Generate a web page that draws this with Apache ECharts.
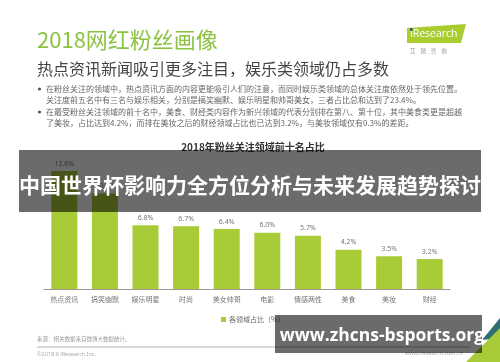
<!DOCTYPE html>
<html><head><meta charset="utf-8">
<script src="https://cdn.jsdelivr.net/npm/echarts@6/dist/echarts.min.js"></script>
<style>html,body{margin:0;padding:0;background:#fff}#c{width:500px;height:362px}</style>
</head><body><div id="c"></div>
<script>
const categories = ['热点资讯','搞笑幽默','娱乐明星','时尚','美女帅哥','电影','情感两性','美食','美妆','财经'];
const values = [12.6,10.2,6.8,6.7,6.4,6.0,5.7,4.2,3.5,3.2];
const seriesName = '各领域占比（%）';
const pageTitle = '2018网红粉丝画像';
const pageSubtitle = '热点资讯新闻吸引更多注目，娱乐类领域仍占多数';
const bulletLines = [
  '在粉丝关注的领域中，热点资讯方面的内容更能吸引人们的注意，而同时娱乐类领域的总体关注度依然处于领先位置。',
  '关注度前五名中有三名与娱乐相关，分别是搞笑幽默、娱乐明星和帅哥美女，三者占比总和达到了23.4%。',
  '在最受粉丝关注领域的前十名中，美食、财经类内容作为新兴领域的代表分别排在第八、第十位，其中美食类更是超越',
  '了美妆，占比达到4.2%，而排在美妆之后的财经领域占比也已达到3.2%，与美妆领域仅有0.3%的差距。'
];
const chartTitle = '2018年粉丝关注领域前十名占比';
const bannerText = '中国世界杯影响力全方位分析与未来发展趋势探讨';
const watermarkText = 'www.zhcns-bsports.org';
const sourceText = '来源：相关数据来自微博大数据统计。';
const copyrightText = '©2018.6 iResearch Inc.';
const siteText = 'www.iresearch.com.cn';

const CJK = '"Noto Sans CJK SC", "Noto Sans", sans-serif';
const chart = echarts.init(document.getElementById('c'), null, {renderer:'canvas'});

const lineY = [89, 100, 112, 123];
const bulletEls = [];
bulletLines.forEach((t, i) => {
  bulletEls.push({type:'text', z:10, style:{text:t, x:46, y:lineY[i], fill:'#666', font:'8px ' + CJK, verticalAlign:'middle'}});
});
[0, 2].forEach(i => {
  bulletEls.push({type:'circle', z:10, shape:{cx:39.5, cy:lineY[i], r:1.6}, style:{fill:'#555'}});
});

chart.setOption({
  backgroundColor:'#fff',
  animation:false,
  grid:{left:44, right:50, top:158, bottom:73},
  xAxis:{type:'category', data:categories,
    axisLine:{lineStyle:{color:'#999', width:1}}, axisTick:{show:false},
    axisLabel:{color:'#777', fontSize:7, fontFamily:CJK, margin:7}},
  yAxis:{type:'value', min:0, max:14, show:false, splitLine:{show:false}},
  legend:{data:[seriesName], left:216, top:311, itemWidth:5, itemHeight:5, itemGap:4,
    icon:'rect', textStyle:{color:'#666', fontSize:7, fontFamily:CJK, padding:[0,0,0,-2]}},
  series:[{type:'bar', name:seriesName, data:values, barWidth:26,
    itemStyle:{color:'#a8cb38'},
    label:{show:true, position:'top', distance:4, color:'#777', fontSize:7, fontFamily:'"Noto Sans", sans-serif',
      formatter:p => p.value.toFixed(1) + '%'}}],
  graphic:{elements:[
    {type:'text', z:10, style:{text:pageTitle, x:37, y:40, fill:'#8cc342', font:'22px ' + CJK, verticalAlign:'middle'}},
    {type:'text', z:10, style:{text:pageSubtitle, x:37, y:69, fill:'#444', font:'16px ' + CJK, verticalAlign:'middle'}},
    {type:'polygon', z:10, shape:{points:[[407,28],[466,24],[461,43],[407,43]]}, style:{fill:'#a9cc2f'}},
    {type:'text', z:11, style:{text:'iResearch', x:410, y:34.5, fill:'#fff', font:'10.5px "Open Sans", sans-serif', verticalAlign:'middle'}},
    {type:'circle', z:12, shape:{cx:411.3, cy:29.5, r:1.4}, style:{fill:'#1d4e8f'}},
    {type:'text', z:10, style:{text:'艾    瑞    咨    询', x:410, y:51, fill:'#999', font:'5.5px ' + CJK, verticalAlign:'middle'}},
    ...bulletEls,
    {type:'text', z:10, style:{text:chartTitle, x:253, y:147, fill:'#333', font:'bold 10px ' + CJK, align:'center', verticalAlign:'middle'}},
    {type:'rect', z:50, shape:{x:19, y:150, width:462, height:62}, style:{fill:'rgba(0,0,0,0.58)'}},
    {type:'text', z:51, style:{text:bannerText, x:250, y:185, fill:'#fff', font:'bold 21px ' + CJK, align:'center', verticalAlign:'middle'}},
    {type:'text', z:10, style:{text:sourceText, x:37, y:339, fill:'#999', font:'5.5px ' + CJK, verticalAlign:'middle'}},
    {type:'line', z:10, shape:{x1:37, y1:347, x2:470, y2:347}, style:{stroke:'#999', lineWidth:0.8}},
    {type:'text', z:10, style:{text:copyrightText, x:37, y:354, fill:'#aaa', font:'5.5px "Noto Sans", sans-serif', verticalAlign:'middle'}},
    {type:'text', z:10, style:{text:siteText, x:405, y:353, fill:'#aaa', font:'5.5px "Noto Sans", sans-serif', verticalAlign:'middle'}},
    {type:'polygon', z:40, shape:{points:[[482,340],[500,318],[500,338]]}, style:{fill:'#2e6f73'}},
    {type:'polygon', z:40, shape:{points:[[466,362],[500,328],[500,362]]}, style:{fill:'#a8cb38'}},
    {type:'rect', z:50, shape:{x:275, y:315, width:207, height:38}, style:{fill:'rgba(0,0,0,0.58)'}},
    {type:'text', z:51, style:{text:watermarkText, x:382, y:336, fill:'#fff', font:'bold 17.5px "Open Sans", sans-serif', align:'center', verticalAlign:'middle'}}
  ]}
});
</script></body></html>
